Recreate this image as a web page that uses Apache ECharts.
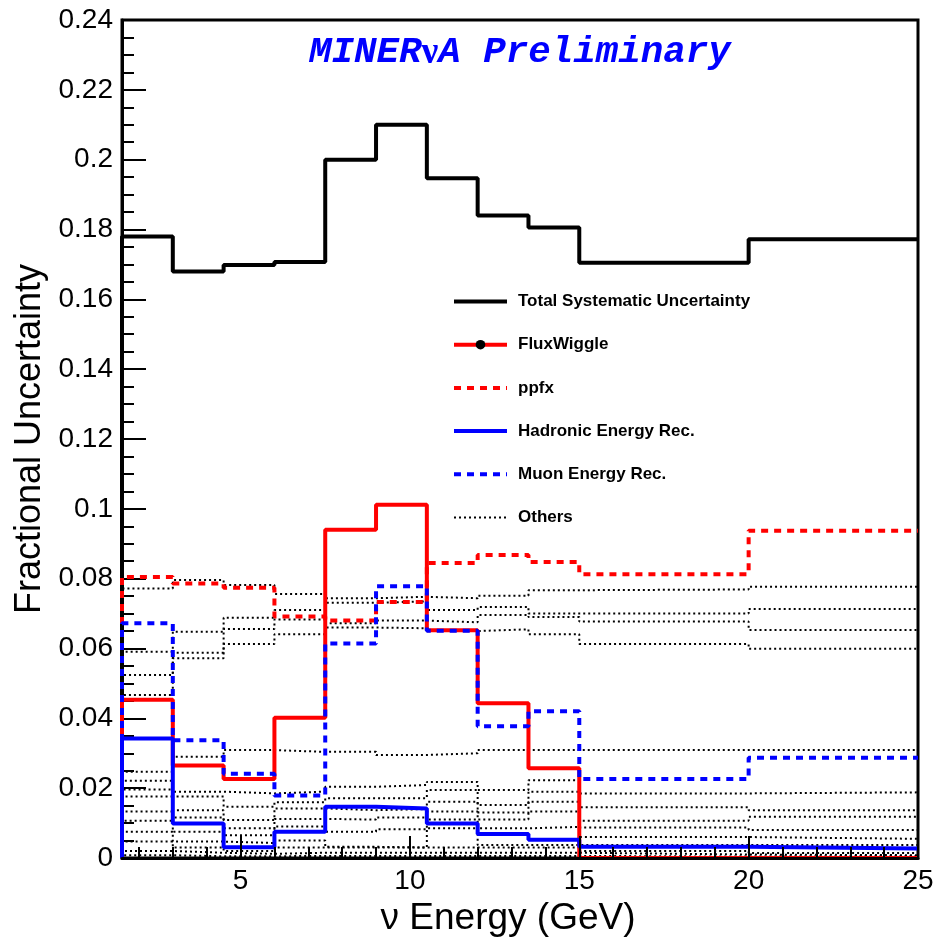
<!DOCTYPE html>
<html>
<head>
<meta charset="utf-8">
<script src="https://cdn.jsdelivr.net/npm/echarts@6/dist/echarts.min.js"></script>
<style>
  html, body { margin: 0; padding: 0; background: #fff; }
  #chart { width: 940px; height: 941px; }
</style>
</head>
<body>
<div id="chart"></div>
<script>
// Energy bin edges (GeV) shared by every histogram
const binEdges = [1.5, 3, 4.5, 6, 7.5, 9, 10.5, 12, 13.5, 15, 20, 25];

// Fractional uncertainty per bin
const totalSyst  = [0.178, 0.168, 0.1698, 0.1707, 0.2000, 0.2100, 0.1947, 0.1840, 0.1806, 0.1705, 0.1772];
const fluxWiggle = [0.0453, 0.0265, 0.0226, 0.0402, 0.0940, 0.1012, 0.0652, 0.0443, 0.0257, 0, 0];
const ppfx       = [0.0805, 0.0786, 0.0774, 0.0692, 0.0680, 0.0733, 0.0845, 0.0868, 0.0848, 0.0813, 0.0937];
const hadronicE  = [0.0342, 0.0099, 0.0031, 0.0075, 0.0147, 0.0142, 0.0099, 0.0069, 0.0052, 0.0032, 0.0027];
const muonE      = [0.0672, 0.0337, 0.0241, 0.0179, 0.0614, 0.0778, 0.0651, 0.0377, 0.0420, 0.0226, 0.0287];

// Remaining individual systematics
const others = [
  [0.0772, 0.0796, 0.0782, 0.0756, 0.0744, 0.0748, 0.0744, 0.0751, 0.0767, 0.0769, 0.0777],
  [0.0591, 0.0648, 0.0688, 0.0710, 0.0731, 0.0735, 0.0710, 0.0719, 0.0700, 0.0700, 0.0713],
  [0.0524, 0.0588, 0.0656, 0.0683, 0.0672, 0.0680, 0.0675, 0.0696, 0.0690, 0.0677, 0.0653],
  [0.0467, 0.0572, 0.0613, 0.0641, 0.0660, 0.0658, 0.0650, 0.0655, 0.0641, 0.0613, 0.0599],
  [0.0247, 0.0290, 0.0309, 0.0304, 0.0304, 0.0295, 0.0300, 0.0309, 0.0309, 0.0309, 0.0309],
  [0.0221, 0.0190, 0.0185, 0.0190, 0.0204, 0.0209, 0.0218, 0.0195, 0.0223, 0.0185, 0.0188],
  [0.0196, 0.0176, 0.0147, 0.0160, 0.0171, 0.0171, 0.0195, 0.0152, 0.0190, 0.0145, 0.0137],
  [0.0176, 0.0137, 0.0109, 0.0142, 0.0137, 0.0140, 0.0161, 0.0130, 0.0161, 0.0107, 0.0118],
  [0.0133, 0.0116, 0.0085, 0.0112, 0.0110, 0.0116, 0.0133, 0.0110, 0.0133, 0.0087, 0.0080],
  [0.0107, 0.0075, 0.0065, 0.0090, 0.0075, 0.0082, 0.0110, 0.0085, 0.0089, 0.0060, 0.0055],
  [0.0075, 0.0047, 0.0043, 0.0050, 0.0032, 0.0030, 0.0085, 0.0037, 0.0037, 0.0037, 0.0037],
  [0.0047, 0.0030, 0.0020, 0.0030, 0.0030, 0.0030, 0.0030, 0.0030, 0.0030, 0.0020, 0.0014],
  [0.0020, 0.0015, 0.0012, 0.0015, 0.0015, 0.0015, 0.0015, 0.0015, 0.0015, 0.0010, 0.0008],
  [0.0008, 0.0005, 0.0005, 0.0006, 0.0006, 0.0006, 0.0006, 0.0006, 0.0006, 0.0004, 0.0004]
];

// Axis ticks
const xMajorTicks = [5, 10, 15, 20, 25];
const xMinorTicks = [2, 3, 4, 6, 7, 8, 9, 11, 12, 13, 14, 16, 17, 18, 19, 21, 22, 23, 24];

const legendNames = ['Total Systematic Uncertainty', 'FluxWiggle', 'ppfx',
                     'Hadronic Energy Rec.', 'Muon Energy Rec.', 'Others'];

// Turn per-bin contents into step-line vertices on the bin edges,
// rising from zero at the low edge like a drawn histogram outline
function histPoints(vals) {
  const pts = [[binEdges[0], 0]];
  vals.forEach((v, i) => pts.push([binEdges[i], v]));
  pts.push([binEdges[binEdges.length - 1], vals[vals.length - 1]]);
  return pts;
}

function histSeries(name, vals, color, width, type, extra) {
  return Object.assign({
    name: name,
    type: 'line',
    step: 'end',
    data: histPoints(vals),
    symbol: 'none',
    clip: false,
    z: 2,
    animation: false,
    lineStyle: { color: color, width: width, type: type, cap: 'butt' },
    itemStyle: { color: color },
    emphasis: { disabled: true }
  }, extra || {});
}

const series = [];
others.forEach(vals => series.push(histSeries('Others', vals, '#000', 2, [2, 3])));
series.push(histSeries('Total Systematic Uncertainty', totalSyst, '#000', 4, 'solid'));
series.push(histSeries('FluxWiggle', fluxWiggle, '#ff0000', 4, 'solid', {
  symbol: 'circle', showSymbol: false, itemStyle: { color: '#000' }
}));
series.push(histSeries('ppfx', ppfx, '#ff0000', 4, [7, 6]));
series.push(histSeries('Hadronic Energy Rec.', hadronicE, '#0000ff', 4, 'solid'));
series.push(histSeries('Muon Energy Rec.', muonE, '#0000ff', 4, [7, 6]));

const legendStyles = {
  'Total Systematic Uncertainty': { color: '#000', width: 4, type: 'solid' },
  'FluxWiggle': { color: '#ff0000', width: 4, type: 'solid' },
  'ppfx': { color: '#ff0000', width: 4, type: [7, 6] },
  'Hadronic Energy Rec.': { color: '#0000ff', width: 4, type: 'solid' },
  'Muon Energy Rec.': { color: '#0000ff', width: 4, type: [7, 6] },
  'Others': { color: '#000', width: 2, type: [2, 3] }
};

const font = 'Liberation Sans, Helvetica, Arial, sans-serif';

const chart = echarts.init(document.getElementById('chart'), null, { renderer: 'canvas' });
chart.setOption({
  backgroundColor: '#fff',
  animation: false,
  title: {
    text: '{m|MINER}{n|ν}{m|A Preliminary}',
    left: 309,
    top: 34,
    padding: 0,
    textStyle: {
      rich: {
        m: { fontFamily: 'Liberation Mono, Courier New, monospace', fontWeight: 'bold', fontStyle: 'italic', fontSize: 37.5, color: '#0000ff' },
        n: { fontFamily: 'Liberation Serif, serif', fontSize: 37.5, color: '#0000ff' }
      }
    }
  },
  grid: {
    left: 122, right: 22, top: 20, bottom: 83,
    outerBoundsMode: 'none',
    containLabel: false,
    show: true, borderColor: '#000', borderWidth: 3, backgroundColor: 'transparent'
  },
  legend: {
    orient: 'vertical',
    left: 452,
    top: 293,
    padding: 0,
    itemWidth: 53,
    itemHeight: 12,
    itemGap: 26.2,
    selectedMode: false,
    data: legendNames.map(n => ({
      name: n,
      lineStyle: legendStyles[n],
      itemStyle: n === 'FluxWiggle' ? { color: '#000' } : { opacity: 0 }
    })),
    textStyle: { fontFamily: font, fontWeight: 'bold', fontSize: 17, color: '#000', padding: [0, 0, 0, 6] }
  },
  xAxis: [
    {
      type: 'value', min: 1.5, max: 25, z: 10,
      name: 'ν Energy (GeV)', nameLocation: 'middle', nameGap: 38,
      nameTextStyle: { fontFamily: font, fontSize: 37, color: '#000', padding: [0, 24, 0, 0] },
      axisLine: { show: true, onZero: false, lineStyle: { color: '#000', width: 3 } },
      axisTick: { show: true, inside: true, length: 22, customValues: xMajorTicks, lineStyle: { color: '#000', width: 2 } },
      axisLabel: { show: true, customValues: xMajorTicks, fontFamily: font, fontSize: 28, color: '#000', margin: 9 },
      splitLine: { show: false }
    },
    {
      type: 'value', min: 1.5, max: 25, position: 'bottom', z: 10,
      axisLine: { show: false },
      axisTick: { show: true, inside: true, length: 11, customValues: xMinorTicks, lineStyle: { color: '#000', width: 2 } },
      axisLabel: { show: false },
      splitLine: { show: false }
    }
  ],
  yAxis: {
    type: 'value', min: 0, max: 0.24, interval: 0.02, z: 0,
    name: 'Fractional Uncertainty', nameLocation: 'middle', nameGap: 74,
    nameTextStyle: { fontFamily: font, fontSize: 36, color: '#000' },
    axisLine: { show: true, lineStyle: { color: '#000', width: 3 } },
    axisTick: { show: true, inside: true, length: 24, lineStyle: { color: '#000', width: 2 } },
    minorTick: { show: true, splitNumber: 4, length: 12, lineStyle: { color: '#000', width: 2 } },
    axisLabel: { fontFamily: font, fontSize: 28, color: '#000', margin: 9,
                 formatter: v => String(parseFloat(v.toFixed(2))) },
    splitLine: { show: false }
  },
  series: series
});
</script>
</body>
</html>
